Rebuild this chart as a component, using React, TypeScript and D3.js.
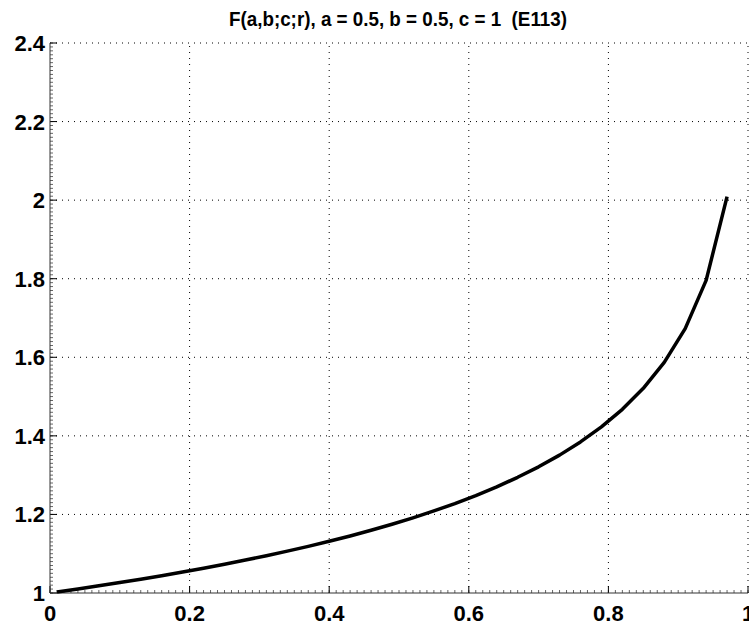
import React from "react";
import * as d3 from "d3";

const rValues = [0.01, 0.04, 0.07, 0.1, 0.13, 0.16, 0.19, 0.22, 0.25, 0.28, 0.31, 0.34, 0.37, 0.4, 0.43, 0.46, 0.49, 0.52, 0.55, 0.58, 0.61, 0.64, 0.67, 0.7, 0.73, 0.76, 0.79, 0.82, 0.85, 0.88, 0.91, 0.94, 0.97];
const fValues = [1.0025, 1.0102, 1.0182, 1.0265, 1.0351, 1.0441, 1.0534, 1.0631, 1.0732, 1.0838, 1.0948, 1.1065, 1.1187, 1.1316, 1.1452, 1.1597, 1.175, 1.1914, 1.2089, 1.2277, 1.2481, 1.2702, 1.2945, 1.3212, 1.351, 1.3845, 1.4229, 1.4676, 1.5209, 1.5869, 1.6729, 1.7957, 2.0091];
const xTicks = [0, 0.2, 0.4, 0.6, 0.8, 1];
const yTicks = [1, 1.2, 1.4, 1.6, 1.8, 2, 2.2, 2.4];
const title = "F(a,b;c;r), a = 0.5, b = 0.5, c = 1  (E113)";

const W = 749, H = 626;
const L = 50, R = 748, T = 43, B = 593;

export default function App() {
  const x = d3.scaleLinear().domain([0, 1]).range([L, R]);
  const y = d3.scaleLinear().domain([1, 2.4]).range([B, T]);
  const data = rValues.map((r, i) => [r, fValues[i]] as [number, number]);
  const line = d3.line<[number, number]>().x(d => x(d[0])).y(d => y(d[1]));
  const xMinor = d3.range(0, 101).map(i => i / 100);
  const yMinor = d3.range(100, 241).map(i => i / 100);
  const font = "'Liberation Sans', Arial, sans-serif";
  return (
    <svg width={W} height={H} style={{ position: "absolute", left: 0, top: 0, background: "#fff" }}>
      <rect x={0} y={0} width={W} height={H} fill="#fff" />
      {/* grid */}
      {xTicks.filter(t => t > 0).map(t => (
        <line key={"gx" + t} x1={x(t)} x2={x(t)} y1={B} y2={T} stroke="#000" strokeWidth={1} strokeDasharray="1,5" />
      ))}
      {yTicks.filter(t => t > 1).map(t => (
        <line key={"gy" + t} x1={L} x2={R} y1={y(t)} y2={y(t)} stroke="#000" strokeWidth={1} strokeDasharray="1,5" />
      ))}
      {/* minor ticks */}
      {xMinor.map(t => (
        <line key={"mx" + t} x1={x(t)} x2={x(t)} y1={B} y2={B - 3} stroke="#666" strokeWidth={1} />
      ))}
      {yMinor.map(t => (
        <line key={"my" + t} x1={L} x2={L + 3} y1={y(t)} y2={y(t)} stroke="#666" strokeWidth={1} />
      ))}
      {/* major ticks */}
      {xTicks.map(t => (
        <line key={"tx" + t} x1={x(t)} x2={x(t)} y1={B} y2={B - 7} stroke="#000" strokeWidth={1} />
      ))}
      {yTicks.map(t => (
        <line key={"ty" + t} x1={L} x2={L + 7} y1={y(t)} y2={y(t)} stroke="#000" strokeWidth={1} />
      ))}
      {/* axes */}
      <line x1={L} x2={L} y1={T} y2={B} stroke="#333" strokeWidth={1} />
      <line x1={L} x2={R} y1={B} y2={B} stroke="#333" strokeWidth={1} />
      {/* curve */}
      <path d={line(data) || ""} fill="none" stroke="#000" strokeWidth={3.5} strokeLinejoin="round" />
      {/* labels */}
      {xTicks.map(t => (
        <text key={"lx" + t} x={x(t)} y={621} textAnchor="middle" fontFamily={font} fontWeight="bold" fontSize={22} fill="#000">
          {d3.format("")(t)}
        </text>
      ))}
      {yTicks.map(t => (
        <text key={"ly" + t} x={45} y={y(t) + 8} textAnchor="end" fontFamily={font} fontWeight="bold" fontSize={22} fill="#000">
          {d3.format("")(t)}
        </text>
      ))}
      <text x={229} y={26} fontFamily={font} fontWeight="bold" fontSize={21} fill="#000" textLength={338} lengthAdjust="spacingAndGlyphs" style={{ whiteSpace: "pre" }}>
        {title}
      </text>
    </svg>
  );
}
